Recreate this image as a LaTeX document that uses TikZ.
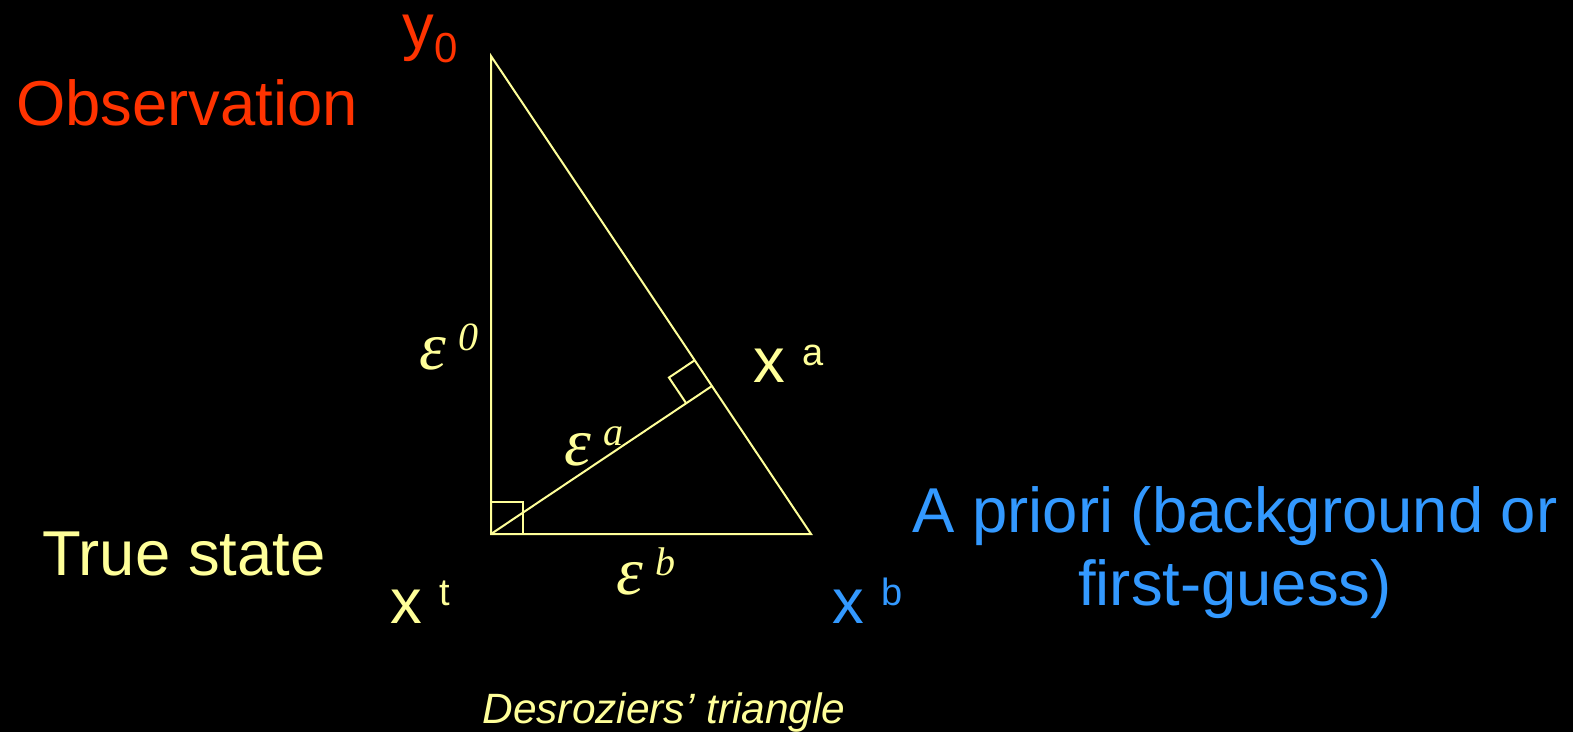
\documentclass[tikz,border=0pt]{standalone}
\usepackage{fontspec}
\setmainfont{Liberation Sans}
\newfontfamily\epsfont{Liberation Serif}
\usepackage{tikz}
\usetikzlibrary{calc}
\definecolor{obsred}{RGB}{255,51,0}
\definecolor{truelight}{RGB}{255,255,153}
\definecolor{priorblue}{RGB}{51,153,255}
\newcommand{\bigtext}{\fontsize{31.7}{36.5}\selectfont}
\newcommand{\xsup}[1]{x\hspace{8.5pt}\raisebox{9pt}{\fontsize{19}{19}\selectfont #1}}
\newcommand{\epssup}[1]{{\epsfont\itshape\fontsize{34}{36}\selectfont ε\hspace{6pt}\raisebox{9.5pt}{\fontsize{20}{20}\selectfont #1}}}

\begin{document}
\begin{tikzpicture}[x=0.5pt,y=-0.5pt,
  edge/.style={draw=truelight,line width=1pt},
  lab/.style={font=\bigtext,inner sep=0pt}]
  \fill[black] (0,0) rectangle (1573,732);
  % triangle corners
  \coordinate (yo) at (491,56);
  \coordinate (xt) at (491,534);
  \coordinate (xb) at (811,534);
  \coordinate (xa) at ($(yo)!(xt)!(xb)$);
  \draw[edge] (yo) -- (xt) -- (xb) -- cycle;
  \draw[edge] (xt) -- (xa);
  % right angles
  \draw[edge] (xt) rectangle ++(32,-32);
  \coordinate (ra1) at ($(xa)!15.5pt!(yo)$);
  \coordinate (ra2) at ($(xa)!15.5pt!(xt)$);
  \draw[edge] (ra1) -- ($(ra1)+(ra2)-(xa)$) -- (ra2);
  % labels
  \node[lab,anchor=base west,text=obsred] (ylab) at (402,49) {y\raisebox{-7pt}{\fontsize{21}{21}\selectfont 0}};
  \node[lab,anchor=base,text=obsred] (obs) at (187,126) {Observation};
  \node[lab,anchor=base west,text=truelight] (eps0) at (419,370) {\epssup{0}};
  \node[lab,anchor=base west,text=truelight] (xalab) at (753,383) {\xsup{a}};
  \node[lab,anchor=base west,text=truelight] (epsa) at (564,465) {\epssup{a}};
  \node[lab,anchor=base,text=truelight] (truestate) at (184,575) {True state};
  \node[lab,anchor=base,text=priorblue,align=center] (prior) at (1235,605) {A priori (background or\\first-guess)};
  \node[lab,anchor=base west,text=truelight] (xtlab) at (390,623) {\xsup{t}};
  \node[lab,anchor=base west,text=truelight] (epsb) at (616,594) {\epssup{b}};
  \node[lab,anchor=base west,text=priorblue] (xblab) at (832,623) {\xsup{b}};
  \node[inner sep=0pt,anchor=base,text=truelight,font=\fontsize{21.2}{24}\selectfont\itshape] (title) at (664,723) {Desroziers’ triangle};
\end{tikzpicture}
\end{document}
